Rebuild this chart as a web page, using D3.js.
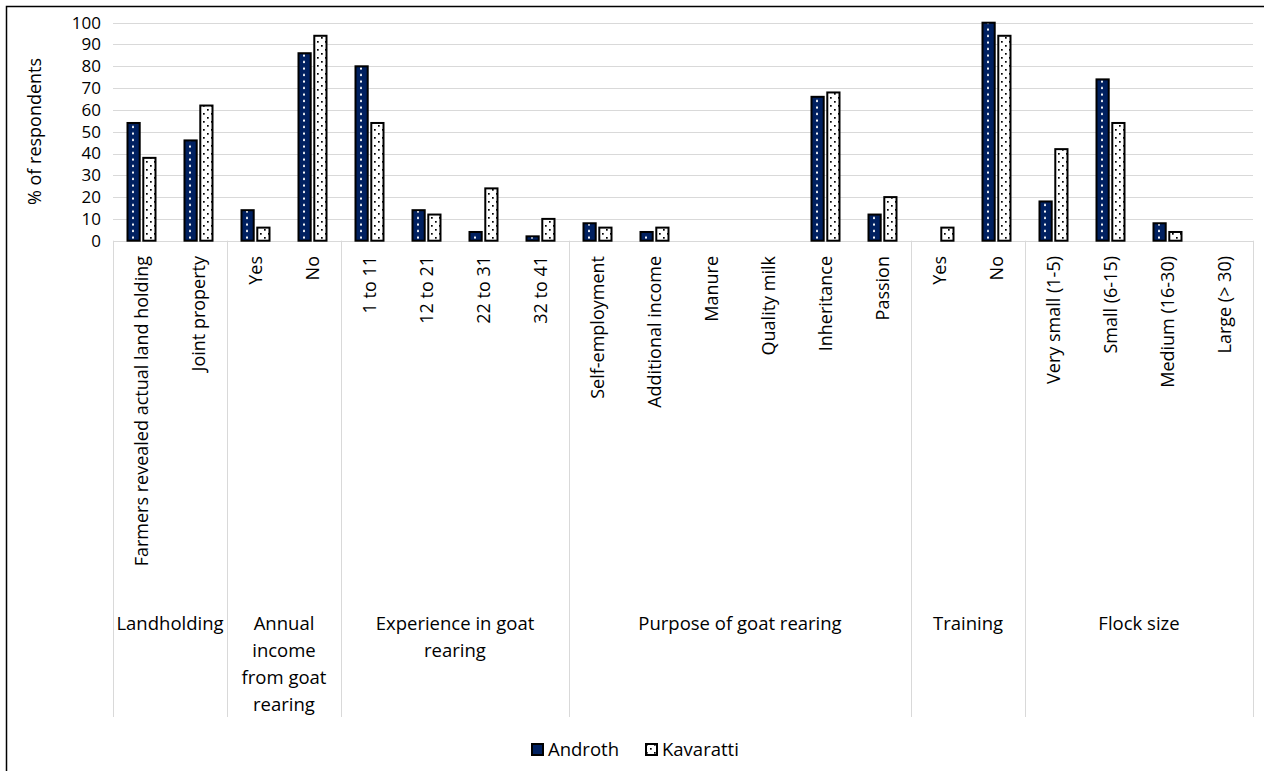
<!DOCTYPE html>
<html>
<head>
<meta charset="utf-8">
<script src="https://cdn.jsdelivr.net/npm/d3@7"></script>
<style>
  body { margin: 0; background: #fff; }
  svg text { font-family: 'Open Sans', sans-serif; fill: #000; }
</style>
</head>
<body>
<div id="chart"></div>
<script>
const categories = [
  'Farmers revealed actual land holding', 'Joint property',
  'Yes', 'No',
  '1 to 11', '12 to 21', '22 to 31', '32 to 41',
  'Self-employment', 'Additional income', 'Manure', 'Quality milk', 'Inheritance', 'Passion',
  'Yes', 'No',
  'Very small (1-5)', 'Small (6-15)', 'Medium (16-30)', 'Large (> 30)'
]
const androth = [54, 46, 14, 86, 80, 14, 4, 2, 8, 4, 0, 0, 66, 12, 0, 100, 18, 74, 8, 0]
const kavaratti = [38, 62, 6, 94, 54, 12, 24, 10, 6, 6, 0, 0, 68, 20, 6, 94, 42, 54, 4, 0]
const groupLabels = [
  ['Landholding'],
  ['Annual', 'income', 'from goat', 'rearing'],
  ['Experience in goat', 'rearing'],
  ['Purpose of goat rearing'],
  ['Training'],
  ['Flock size']
]
const groupSizes = [2, 2, 4, 6, 2, 4]
const seriesNames = ['Androth', 'Kavaratti']
const yTicks = [0, 10, 20, 30, 40, 50, 60, 70, 80, 90, 100]

const width = 1264
const height = 771
const plotLeft = 113
const plotRight = 1253
const plotTop = 22.7
const plotBottom = 240.7

const svg = d3.select('#chart')
  .append('svg')
  .attr('width', width)
  .attr('height', height)

// patterns
const defs = svg.append('defs')
const pA = defs.append('pattern')
  .attr('id', 'patA')
  .attr('patternUnits', 'userSpaceOnUse')
  .attr('x', plotLeft).attr('y', 0)
  .attr('width', 57).attr('height', 6.5)
pA.append('rect').attr('width', 57).attr('height', 6.5).attr('fill', '#002060')
pA.append('rect').attr('x', 20).attr('y', 2.5).attr('width', 2).attr('height', 2).attr('fill', '#fff')

const pK = defs.append('pattern')
  .attr('id', 'patK')
  .attr('patternUnits', 'userSpaceOnUse')
  .attr('width', 8).attr('height', 8)
pK.append('rect').attr('width', 8).attr('height', 8).attr('fill', '#fff')
pK.append('rect').attr('x', 1).attr('y', 1).attr('width', 1.7).attr('height', 1.7).attr('fill', '#000')
pK.append('rect').attr('x', 5).attr('y', 5).attr('width', 1.7).attr('height', 1.7).attr('fill', '#000')

// outer border
svg.append('rect')
  .attr('x', 6.5).attr('y', 6.5)
  .attr('width', 1400).attr('height', 900)
  .attr('fill', 'none')
  .attr('stroke', '#000')
  .attr('stroke-width', 1.5)

const idx = categories.map((d, i) => i)
const x0 = d3.scaleBand().domain(idx).range([plotLeft, plotRight]).padding(0)
const x1 = d3.scaleBand().domain(seriesNames).range([13.5, 43.5]).paddingInner(0.1)
const y = d3.scaleLinear().domain([0, 100]).range([plotBottom, plotTop])

// gridlines
svg.append('g')
  .selectAll('line')
  .data(yTicks)
  .join('line')
  .attr('x1', plotLeft).attr('x2', plotRight)
  .attr('y1', (d) => Math.round(y(d)) + 0.5)
  .attr('y2', (d) => Math.round(y(d)) + 0.5)
  .attr('stroke', '#d9d9d9')
  .attr('stroke-width', 1)

// y axis labels
const yAxis = d3.axisLeft(y).tickValues(yTicks).tickSize(0).tickPadding(0)
svg.append('g')
  .attr('transform', `translate(101, 0)`)
  .call(yAxis)
  .call((g) => g.select('.domain').remove())
  .selectAll('text')
  .style('font-family', "'Open Sans', sans-serif")
  .style('font-size', '17px')
  .attr('fill', '#000')

svg.append('text')
  .attr('transform', `translate(41, 131.5) rotate(-90)`)
  .attr('text-anchor', 'middle')
  .style('font-size', '18px')
  .text('% of respondents')

// group separators
const bounds = [0]
groupSizes.forEach((s) => bounds.push(bounds[bounds.length - 1] + s))
svg.append('g')
  .selectAll('line')
  .data(bounds)
  .join('line')
  .attr('x1', (d) => Math.round(plotLeft + d * x0.step()) + 0.5)
  .attr('x2', (d) => Math.round(plotLeft + d * x0.step()) + 0.5)
  .attr('y1', plotBottom)
  .attr('y2', 717)
  .attr('stroke', '#d9d9d9')

// category labels
svg.append('g')
  .selectAll('text')
  .data(idx)
  .join('text')
  .attr('transform', (d) => `translate(${x0(d) + x0.bandwidth() / 2}, 256) rotate(-90)`)
  .attr('text-anchor', 'end')
  .attr('dy', '0.35em')
  .style('font-size', '18px')
  .text((d) => categories[d])

// group labels
const groupX = (i) => plotLeft + (bounds[i] + bounds[i + 1]) / 2 * x0.step()
const gl = svg.append('g')
  .selectAll('text')
  .data(groupLabels)
  .join('text')
  .attr('x', (d, i) => groupX(i))
  .attr('y', 630)
  .attr('text-anchor', 'middle')
  .style('font-size', '18.5px')
gl.selectAll('tspan')
  .data((d, i) => d.map((t) => ({ t, i })))
  .join('tspan')
  .attr('x', (d) => groupX(d.i))
  .attr('dy', (d, j) => (j === 0 ? 0 : 27))
  .text((d) => d.t)

// bars
const rows = idx.map((i) => ({ i, values: [androth[i], kavaratti[i]] }))
const fills = { Androth: 'url(#patA)', Kavaratti: 'url(#patK)' }
svg.append('g')
  .selectAll('g')
  .data(rows)
  .join('g')
  .attr('transform', (d) => `translate(${x0(d.i)}, 0)`)
  .selectAll('rect')
  .data((d) => seriesNames.map((s, k) => ({ s, v: d.values[k] })).filter((e) => e.v > 0))
  .join('rect')
  .attr('x', (d) => x1(d.s) + 1)
  .attr('y', (d) => y(d.v))
  .attr('width', x1.bandwidth() - 2)
  .attr('height', (d) => y(0) - y(d.v))
  .attr('fill', (d) => fills[d.s])
  .attr('stroke', '#000')
  .attr('stroke-width', 2)

// legend
const legendX = [531, 645]
const lg = svg.append('g')
  .selectAll('g')
  .data(seriesNames)
  .join('g')
  .attr('transform', (d, i) => `translate(${legendX[i]}, 743)`)
lg.append('rect')
  .attr('x', 1).attr('y', 1)
  .attr('width', 11).attr('height', 11)
  .attr('fill', (d) => fills[d])
  .attr('stroke', '#000')
  .attr('stroke-width', 2)
lg.append('text')
  .attr('x', 17)
  .attr('y', 13)
  .style('font-size', '18.5px')
  .text((d) => d)
</script>
</body>
</html>
